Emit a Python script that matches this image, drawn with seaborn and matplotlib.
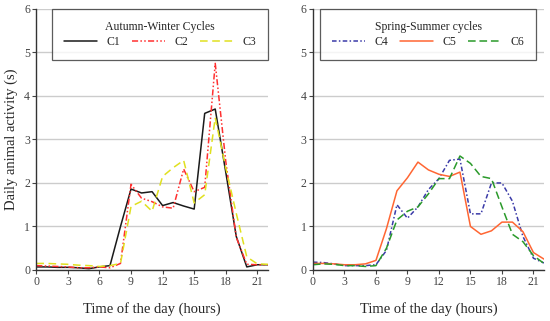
import matplotlib
matplotlib.use("Agg")
import matplotlib.pyplot as plt
import seaborn as sns
import pandas as pd

hours = list(range(23))

# autumn-winter cycles
c1 = [0.07, 0.07, 0.06, 0.06, 0.05, 0.03, 0.07, 0.10, 1.00, 1.86, 1.77, 1.80, 1.48, 1.55, 1.47, 1.40,
      3.60, 3.70, 2.25, 0.77, 0.07, 0.12, 0.12]
c2 = [0.10, 0.09, 0.08, 0.07, 0.05, 0.05, 0.07, 0.05, 0.15, 1.97, 1.65, 1.57, 1.45, 1.42, 2.32, 1.80,
      1.90, 4.75, 2.50, 0.75, 0.13, 0.12, 0.12]
c3 = [0.15, 0.15, 0.14, 0.13, 0.11, 0.10, 0.08, 0.10, 0.15, 1.46, 1.58, 1.35, 2.15, 2.35, 2.52, 1.54,
      1.73, 3.50, 2.35, 1.30, 0.30, 0.14, 0.13]

# spring-summer cycles
c4 = [0.18, 0.17, 0.14, 0.10, 0.10, 0.10, 0.12, 0.45, 1.50, 1.19, 1.45, 1.85, 2.10, 2.52, 2.55, 1.29,
      1.29, 2.00, 2.00, 1.58, 0.77, 0.27, 0.16]
c5 = [0.15, 0.15, 0.14, 0.12, 0.12, 0.14, 0.22, 0.95, 1.82, 2.12, 2.48, 2.30, 2.20, 2.15, 2.25, 1.00,
      0.82, 0.90, 1.10, 1.10, 0.88, 0.40, 0.25]
c6 = [0.12, 0.14, 0.13, 0.10, 0.10, 0.08, 0.10, 0.50, 1.15, 1.35, 1.45, 1.75, 2.10, 2.10, 2.62, 2.45,
      2.15, 2.10, 1.45, 0.82, 0.65, 0.33, 0.15]

sns.set_theme(style="ticks")
plt.rcParams['font.family'] = ['Liberation Serif', 'DejaVu Serif']

fig = plt.figure(figsize=(5.5, 3.21), dpi=100)
ax1 = fig.add_axes([0.066, 0.159, 0.421, 0.813])
ax2 = fig.add_axes([0.569, 0.159, 0.420, 0.813])

panels = [
    (ax1, "Autumn-Winter Cycles", "upper right", (1.0, 1.0),
     [("C1", c1, "#1a1a1a", "-"),
      ("C2", c2, "#ff3030", (0, (4, 1.5, 1, 1.5, 1, 1.5))),
      ("C3", c3, "#e0e020", (0, (5, 3)))]),
    (ax2, "Spring-Summer cycles", "upper center", (0.5, 1.0),
     [("C4", c4, "#3a3aa8", (0, (3, 1.5, 1, 1.5))),
      ("C5", c5, "#ff6633", "-"),
      ("C6", c6, "#2a9a2a", (0, (5, 2.5)))]),
]

for ax, title, loc, anchor, series in panels:
    for name, vals, col, ls in series:
        df = pd.DataFrame({"hour": hours, "value": vals})
        sns.lineplot(data=df, x="hour", y="value", ax=ax, color=col, linewidth=1.1,
                     linestyle=ls, label=name)
    ax.set_xlim(0, 22)
    ax.set_ylim(0, 6)
    ax.set_xticks(range(0, 22, 3))
    ax.set_yticks(range(0, 7))
    ax.yaxis.grid(True, color="#cccccc", linewidth=1)
    ax.set_axisbelow(True)
    for s in ["top", "right"]:
        ax.spines[s].set_visible(False)
    for s in ["left", "bottom"]:
        ax.spines[s].set_color("#333333")
        ax.spines[s].set_linewidth(1)
    ax.tick_params(labelsize=8.5, colors="#444444", length=3, width=0.8, pad=1.5)
    ax.set_xlabel("Time of the day (hours)", fontsize=10.5, labelpad=10)
    ax.set_ylabel("")
    leg = ax.legend(title=title, ncol=3, loc=loc, bbox_to_anchor=anchor,
                    fontsize=8.5, title_fontsize=8.5, frameon=True, fancybox=False,
                    handlelength=2.8, handletextpad=0.8, columnspacing=1.0,
                    borderaxespad=0, borderpad=1.0, labelspacing=0.3)
    leg.get_frame().set_edgecolor("#333333")
    leg.get_frame().set_linewidth(0.9)

ax1.set_ylabel("Daily animal activity (s)", fontsize=10.5)

fig.savefig("out.png", dpi=100)
